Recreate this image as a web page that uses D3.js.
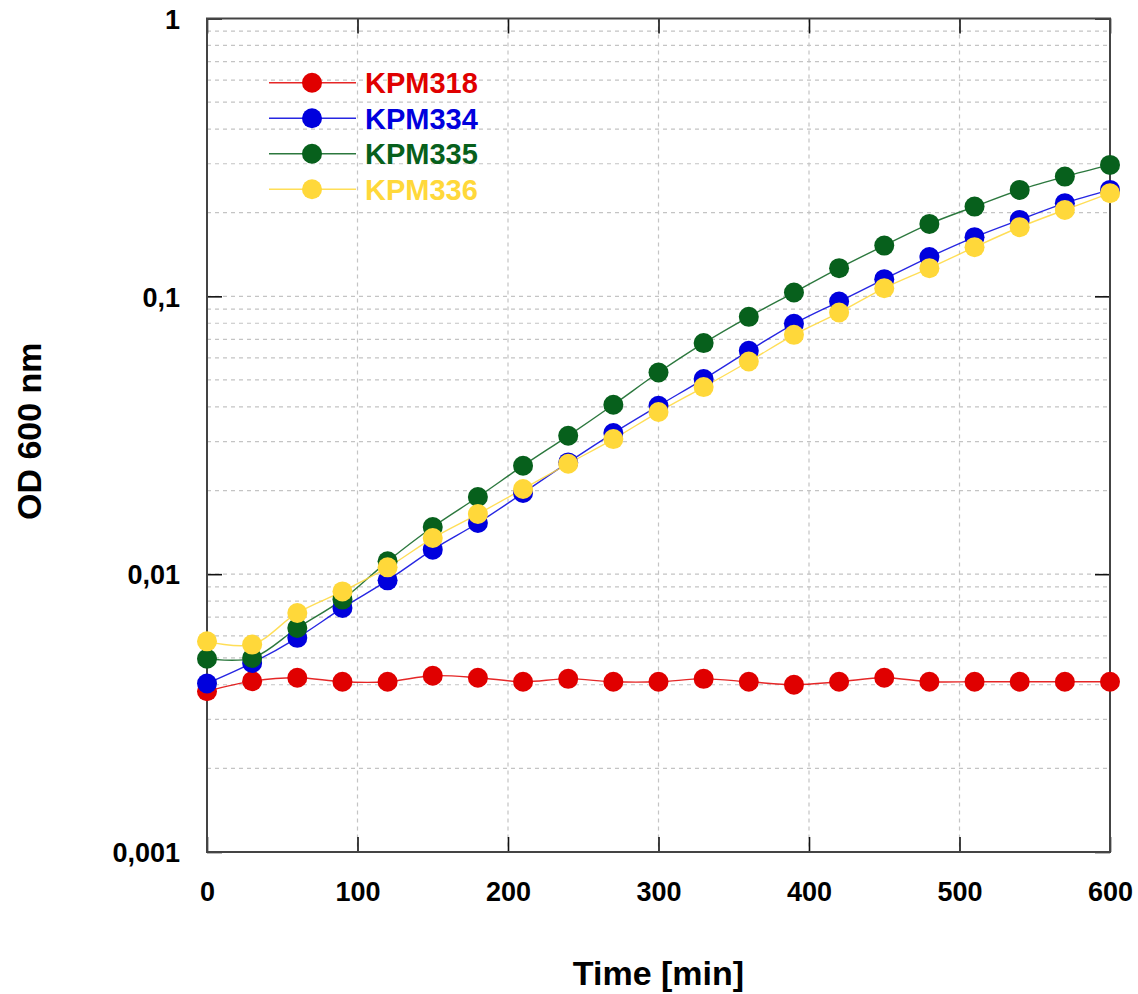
<!DOCTYPE html>
<html>
<head>
<meta charset="utf-8">
<script src="https://cdn.jsdelivr.net/npm/d3@7"></script>
<style>
  html, body { margin: 0; padding: 0; background: #fff; }
  svg { display: block; }
  text { font-family: "Liberation Sans", Arial, sans-serif; font-weight: bold; }
</style>
</head>
<body>
<svg id="chart" width="1138" height="994"></svg>
<script>
// ---- data ----
const times = [0,30,60,90,120,150,180,210,240,270,300,330,360,390,420,450,480,510,540,570,600];
const seriesNames = ["KPM318","KPM334","KPM335","KPM336"];
const seriesColors = ["#e00000","#0000dd","#07601c","#ffd83a"];
const kpm318 = [0.00379,0.00412,0.00424,0.00410,0.00410,0.00431,0.00424,0.00410,0.00420,0.00410,0.00410,0.00420,0.00410,0.00400,0.00410,0.00424,0.00410,0.00410,0.00410,0.00410,0.00410];
const kpm334 = [0.00404,0.00479,0.00590,0.00756,0.00950,0.01225,0.01528,0.01959,0.02525,0.03220,0.04037,0.05037,0.06368,0.07962,0.09578,0.1153,0.1384,0.1633,0.1884,0.2164,0.2416];
const kpm335 = [0.00496,0.00499,0.00640,0.00810,0.01112,0.01478,0.01895,0.02457,0.03148,0.04072,0.05319,0.06786,0.08439,0.1032,0.1263,0.1523,0.1823,0.2104,0.2416,0.2698,0.2972];
const kpm336 = [0.00573,0.00558,0.00725,0.00867,0.01058,0.01349,0.01646,0.02026,0.02497,0.03063,0.03833,0.04714,0.05827,0.07269,0.08744,0.1070,0.1263,0.1503,0.1774,0.2047,0.2351];
const seriesValues = [kpm318, kpm334, kpm335, kpm336];
const xTicks = [0,100,200,300,400,500,600];
const yTicks = [0.001,0.01,0.1,1];
const yTickLabels = ["0,001","0,01","0,1","1"];
const xTitle = "Time [min]";
const yTitle = "OD 600 nm";

// ---- layout ----
const L = 207, R = 1110, T = 18.5, B = 852;
const svg = d3.select("#chart");
const x = d3.scaleLinear().domain([0,600]).range([L,R]);
const y = d3.scaleLog().domain([0.001,1]).range([B,T]);

// grid
const grid = svg.append("g").attr("stroke","#c4c4c4").attr("stroke-width",1.2).attr("stroke-dasharray","4,4");
const minorVals = [];
for (let d = 0.001; d < 1; d *= 10) {
  for (let k = 1; k <= 9; k++) { const v = +(d*k).toPrecision(3); if (v > 0.001 && v < 1) minorVals.push(v); }
}
grid.selectAll("line.h").data(minorVals).join("line")
  .attr("x1",L).attr("x2",R).attr("y1",d=>y(d)).attr("y2",d=>y(d));
grid.selectAll("line.v").data(xTicks.filter(t=>t>0&&t<600)).join("line").attr("class","v")
  .attr("x1",d=>x(d)).attr("x2",d=>x(d)).attr("y1",T).attr("y2",B);

// axes via d3 axis generators (inside ticks)
const tickLen = 15;
const axB = svg.append("g").attr("transform",`translate(0,${B})`)
  .call(d3.axisBottom(x).tickValues(xTicks).tickSize(-tickLen).tickPadding(30).tickFormat(d3.format("d")));
const axT = svg.append("g").attr("transform",`translate(0,${T})`)
  .call(d3.axisTop(x).tickValues(xTicks).tickSize(-tickLen).tickFormat(""));
const axL = svg.append("g").attr("transform",`translate(${L},0)`)
  .call(d3.axisLeft(y).tickValues(yTicks).tickSize(-tickLen).tickPadding(27).tickFormat((d,i)=>yTickLabels[i]));
const axR = svg.append("g").attr("transform",`translate(${R},0)`)
  .call(d3.axisRight(y).tickValues(yTicks).tickSize(-tickLen).tickFormat(""));
[axB,axT,axL,axR].forEach(a=>{
  a.select(".domain").remove();
  a.selectAll(".tick line").attr("stroke","#111").attr("stroke-width",1.6);
  a.selectAll("text").attr("fill","#000").style("font-size","27px").style("font-family","'Liberation Sans', Arial, sans-serif").style("font-weight","bold");
});
axB.selectAll(".tick text").attr("dy","0.71em");
axL.selectAll(".tick text").attr("dy","0.36em");

// frame
svg.append("rect").attr("x",L).attr("y",T).attr("width",R-L).attr("height",B-T)
  .attr("fill","none").attr("stroke","#444").attr("stroke-width",2);

// series
const line = d3.line().x((d,i)=>x(times[i])).y(d=>y(d)).curve(d3.curveCatmullRom.alpha(0.5));
const order = [0,1,2,3];
const gS = svg.append("g");
order.forEach(si=>{
  gS.append("path").datum(seriesValues[si]).attr("d",line)
    .attr("fill","none").attr("stroke",seriesColors[si]).attr("stroke-width",1.4).attr("stroke-opacity",0.85);
});
order.forEach(si=>{
  gS.append("g").selectAll("circle").data(seriesValues[si]).join("circle")
    .attr("cx",(d,i)=>x(times[i])).attr("cy",d=>y(d)).attr("r",10).attr("fill",seriesColors[si]);
});

// legend
const lg = svg.append("g");
seriesNames.forEach((n,i)=>{
  const yy = 82.7 + i*35.5;
  lg.append("line").attr("x1",269).attr("x2",356).attr("y1",yy).attr("y2",yy)
    .attr("stroke",seriesColors[i]).attr("stroke-width",1.4).attr("stroke-opacity",0.85);
  lg.append("circle").attr("cx",312).attr("cy",yy).attr("r",10).attr("fill",seriesColors[i]);
  lg.append("text").attr("x",365).attr("y",yy).attr("dy","0.36em").attr("fill",seriesColors[i])
    .style("font-size","29px").text(n);
});

// titles
svg.append("text").attr("x",(L+R)/2).attr("y",985).attr("text-anchor","middle")
  .style("font-size","34px").attr("fill","#000").text(xTitle);
svg.append("text").attr("transform",`translate(41,${(T+B)/2 - 4}) rotate(-90)`).attr("text-anchor","middle")
  .style("font-size","34px").attr("fill","#000").text(yTitle);
</script>
</body>
</html>
